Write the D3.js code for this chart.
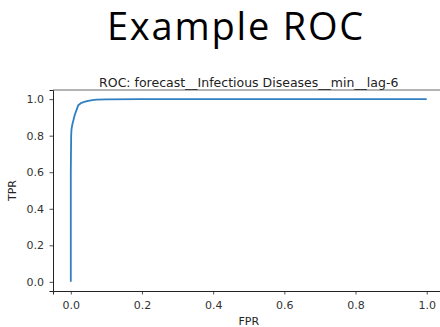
<!DOCTYPE html>
<html>
<head>
<meta charset="utf-8">
<script src="https://cdn.jsdelivr.net/npm/d3@7"></script>
<style>
  html, body { margin: 0; padding: 0; background: #fff; }
  svg { display: block; }
</style>
</head>
<body>
<svg id="chart"></svg>
<script>
// ROC curve points
const fpr = [0, 0.0, 0.001, 0.002, 0.004, 0.008, 0.011, 0.016, 0.021, 0.03, 0.04, 0.049, 0.06, 0.072, 0.1, 0.2, 0.5, 1.0];
const tpr = [0, 0.60, 0.80, 0.835, 0.858, 0.89, 0.913, 0.94, 0.967, 0.98, 0.986, 0.991, 0.995, 0.997, 0.999, 1.0, 1.0, 1.0];
const xTicks = [0, 0.2, 0.4, 0.6, 0.8, 1.0];
const yTicks = [0, 0.2, 0.4, 0.6, 0.8, 1.0];
const slideTitle = 'Example ROC';
const plotTitle = 'ROC: forecast__Infectious Diseases__min__lag-6';

const width = 440;
const height = 327;
const marginTop = 90;
const marginBottom = 36;
const marginLeft = 53;
const plotRight = 444.5; // axes run past the right edge of the picture

const svg = d3.select('#chart').attr('width', width).attr('height', height);

const x = d3.scaleLinear().domain([-0.05, 1.05]).range([marginLeft, plotRight]);
const y = d3.scaleLinear().domain([-0.05, 1.05]).range([height - marginBottom, marginTop]);

// big slide title
svg.append('text')
    .attr('x', 236)
    .attr('y', 39.5)
    .attr('text-anchor', 'middle')
    .attr('font-family', 'Open Sans, sans-serif')
    .attr('font-size', 38)
    .attr('letter-spacing', 1.8)
    .attr('fill', '#000')
    .text(slideTitle);

// plot title
svg.append('text')
    .attr('x', (marginLeft + plotRight) / 2)
    .attr('y', 87)
    .attr('text-anchor', 'middle')
    .attr('font-family', 'DejaVu Sans, sans-serif')
    .attr('font-size', 12.5)
    .attr('fill', '#222')
    .text(plotTitle);

// Add the x-axis.
const xAxis = svg.append('g')
    .attr('transform', `translate(0,${height - marginBottom})`)
    .call(d3.axisBottom(x).tickValues(xTicks).tickFormat(d3.format('.1f')).tickSizeOuter(0).tickSize(3.5).tickPadding(6.5));

// Add the y-axis.
const yAxis = svg.append('g')
    .attr('transform', `translate(${marginLeft},0)`)
    .call(d3.axisLeft(y).tickValues(yTicks).tickFormat(d3.format('.1f')).tickSizeOuter(0).tickSize(3.5).tickPadding(5.5));

[xAxis, yAxis].forEach((g) => {
    g.attr('font-family', 'DejaVu Sans, sans-serif').attr('font-size', 11);
    g.select('.domain').attr('stroke', '#222').attr('stroke-width', 1);
    g.selectAll('.tick line').attr('stroke', '#222').attr('stroke-width', 0.8);
    g.selectAll('.tick text').attr('fill', '#333');
});

// top spine
svg.append('line')
    .attr('x1', marginLeft).attr('x2', plotRight)
    .attr('y1', marginTop).attr('y2', marginTop)
    .attr('stroke', '#444').attr('stroke-width', 0.8);

// axis labels
svg.append('text')
    .attr('x', (marginLeft + plotRight) / 2)
    .attr('y', 324.5)
    .attr('text-anchor', 'middle')
    .attr('font-family', 'DejaVu Sans, sans-serif')
    .attr('font-size', 11)
    .attr('fill', '#222')
    .text('FPR');

svg.append('text')
    .attr('transform', `translate(16,${(marginTop + height - marginBottom) / 2}) rotate(-90)`)
    .attr('text-anchor', 'middle')
    .attr('font-family', 'DejaVu Sans, sans-serif')
    .attr('font-size', 11)
    .attr('fill', '#222')
    .text('TPR');

// ROC curve
const points = fpr.map((f, i) => [f, tpr[i]]);
const line = d3.line().x((d) => x(d[0])).y((d) => y(d[1]));

svg.append('path')
    .datum(points)
    .attr('fill', 'none')
    .attr('stroke', '#2f7fc1')
    .attr('stroke-width', 1.8)
    .attr('stroke-linejoin', 'round')
    .attr('d', line);
</script>
</body>
</html>
